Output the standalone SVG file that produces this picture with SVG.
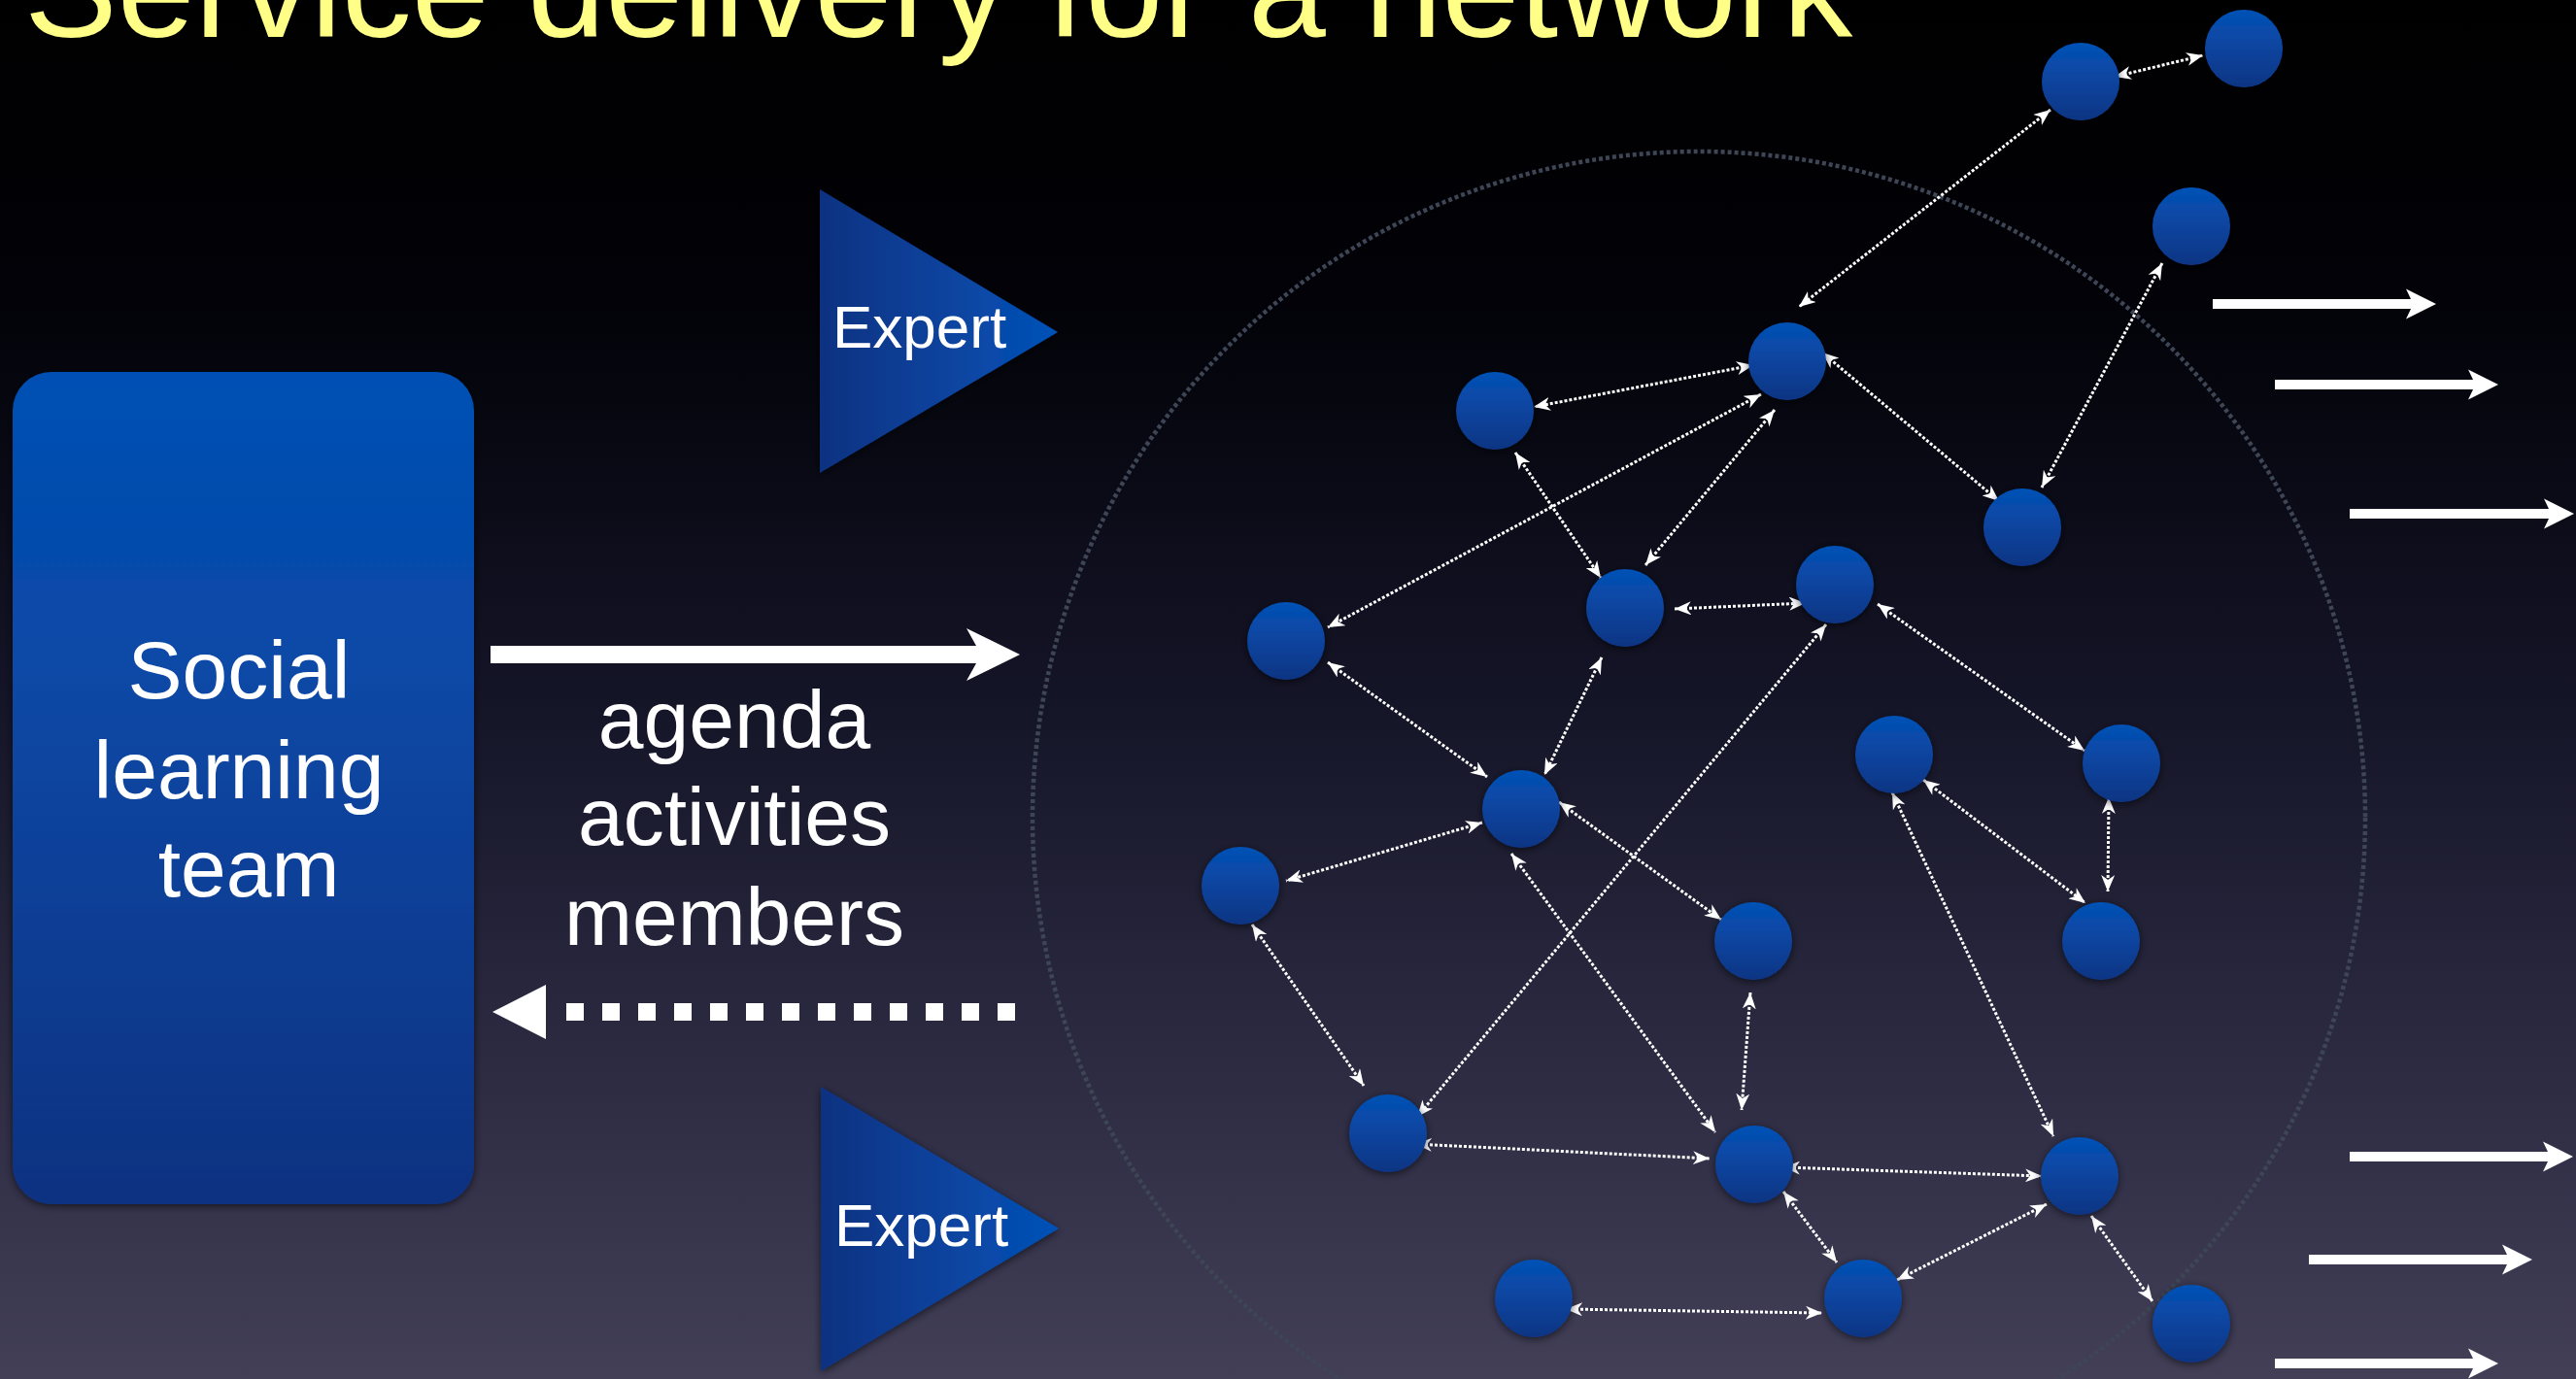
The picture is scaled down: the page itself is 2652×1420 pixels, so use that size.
<svg xmlns="http://www.w3.org/2000/svg" width="2652" height="1420" viewBox="0 0 2652 1420">
<defs>
  <linearGradient id="bg" x1="0" y1="0" x2="0" y2="1">
    <stop offset="0" stop-color="#000000"/>
    <stop offset="0.22" stop-color="#020208"/>
    <stop offset="0.5" stop-color="#141427"/>
    <stop offset="0.75" stop-color="#2a2940"/>
    <stop offset="1" stop-color="#423f57"/>
  </linearGradient>
  <linearGradient id="nodeFill" x1="0" y1="0" x2="0" y2="1">
    <stop offset="0" stop-color="#0052b6"/>
    <stop offset="0.35" stop-color="#0b48a6"/>
    <stop offset="1" stop-color="#0c3583"/>
  </linearGradient>
  <linearGradient id="boxFill" x1="0" y1="0" x2="0" y2="1">
    <stop offset="0" stop-color="#0050b4"/>
    <stop offset="0.4" stop-color="#0b47a4"/>
    <stop offset="1" stop-color="#0c3281"/>
  </linearGradient>
  <linearGradient id="triFill" x1="0" y1="0" x2="1" y2="0">
    <stop offset="0" stop-color="#0c3281"/>
    <stop offset="0.6" stop-color="#0b45a2"/>
    <stop offset="1" stop-color="#0052b8"/>
  </linearGradient>
  <filter id="shadow" x="-20%" y="-20%" width="140%" height="140%">
    <feDropShadow dx="0" dy="2" stdDeviation="4" flood-color="#000000" flood-opacity="0.6"/>
  </filter>
  <marker id="ah" viewBox="0 0 17 14" refX="17" refY="7" markerWidth="17" markerHeight="14" markerUnits="userSpaceOnUse" orient="auto-start-reverse">
    <path d="M17,7 L0,0 L5,7 L0,14 Z" fill="#ffffff"/>
  </marker>
</defs>
<style>
  .node { fill: url(#nodeFill); filter: url(#shadow); }
  .link { stroke: #ffffff; stroke-width: 3; stroke-dasharray: 3 2; fill: none; marker-start: url(#ah); marker-end: url(#ah); }
  .txt { font-family: "Liberation Sans", Arial, sans-serif; fill: #ffffff; }
  .big { font-size: 84px; text-anchor: middle; }
  .exp { font-size: 62px; }
  .warrow { fill: #ffffff; }
</style>

<rect x="0" y="0" width="2652" height="1420" fill="url(#bg)"/>

<text id="title" x="25" y="38" font-family="Liberation Sans, Arial, sans-serif" font-size="143.5" fill="#ffff88">Service delivery for a network</text>

<circle id="network-boundary" cx="1749" cy="842" r="686" fill="none" stroke="#3e4656" stroke-width="4.5" stroke-dasharray="4 3"/>

<g id="social-learning-team">
  <rect x="13" y="383" width="475" height="857" rx="40" ry="40" fill="url(#boxFill)" filter="url(#shadow)"/>
  <text class="txt big" x="246" y="719">Social</text>
  <text class="txt big" x="246" y="822">learning</text>
  <text class="txt big" x="256" y="923">team</text>
</g>

<g id="expert-top">
  <polygon points="844,195 844,487 1089,342" fill="url(#triFill)" filter="url(#shadow)"/>
  <text class="txt exp" x="857" y="358">Expert</text>
</g>
<g id="expert-bottom">
  <polygon points="845,1119 845,1412 1090,1265" fill="url(#triFill)" filter="url(#shadow)"/>
  <text class="txt exp" x="859" y="1283">Expert</text>
</g>

<g id="flow-labels">
  <text class="txt big" x="756" y="770">agenda</text>
  <text class="txt big" x="756" y="870">activities</text>
  <text class="txt big" x="756" y="973">members</text>
</g>

<g id="main-arrows">
  <path class="warrow" d="M505,665 L1005,665 L995,647 L1050,674 L995,701 L1005,683 L505,683 Z"/>
  <path class="warrow" d="M507,1042 L562,1014 L562,1070 Z"/>
  <line x1="583" y1="1042" x2="1050" y2="1042" stroke="#ffffff" stroke-width="18" stroke-dasharray="18 19"/>
</g>

<g id="output-arrows">
  <path class="warrow" d="M2278,308 L2482,308 L2477,297.5 L2508,313 L2477,328.5 L2482,318 L2278,318 Z"/>
  <path class="warrow" d="M2342,391 L2546,391 L2541,380.5 L2572,396 L2541,411.5 L2546,401 L2342,401 Z"/>
  <path class="warrow" d="M2419,524 L2624,524 L2619,513.5 L2650,529 L2619,544.5 L2624,534 L2419,534 Z"/>
  <path class="warrow" d="M2419,1186 L2623,1186 L2618,1175.5 L2649,1191 L2618,1206.5 L2623,1196 L2419,1196 Z"/>
  <path class="warrow" d="M2377,1292 L2581,1292 L2576,1281.5 L2607,1297 L2576,1312.5 L2581,1302 L2377,1302 Z"/>
  <path class="warrow" d="M2342,1399 L2546,1399 L2541,1388.5 L2572,1404 L2541,1419.5 L2546,1409 L2342,1409 Z"/>
</g>

<g id="connectors">
  <line class="link" x1="2177" y1="79" x2="2268" y2="57"/>
  <line class="link" x1="2111" y1="113" x2="1852" y2="316"/>
  <line class="link" x1="2226" y1="271" x2="2102" y2="502"/>
  <line class="link" x1="1805" y1="376" x2="1579" y2="419"/>
  <line class="link" x1="1813" y1="406" x2="1367" y2="646"/>
  <line class="link" x1="1827" y1="422" x2="1694" y2="582"/>
  <line class="link" x1="1876" y1="363" x2="2058" y2="516"/>
  <line class="link" x1="1560" y1="466" x2="1648" y2="595"/>
  <line class="link" x1="1724" y1="627" x2="1859" y2="621"/>
  <line class="link" x1="1933" y1="622" x2="2146" y2="773"/>
  <line class="link" x1="1880" y1="643" x2="1459" y2="1150"/>
  <line class="link" x1="1367" y1="682" x2="1531" y2="800"/>
  <line class="link" x1="1649" y1="677" x2="1590" y2="798"/>
  <line class="link" x1="1526" y1="847" x2="1324" y2="907"/>
  <line class="link" x1="1605" y1="826" x2="1772" y2="947"/>
  <line class="link" x1="1556" y1="879" x2="1766" y2="1166"/>
  <line class="link" x1="1289" y1="952" x2="1404" y2="1118"/>
  <line class="link" x1="1948" y1="816" x2="2114" y2="1170"/>
  <line class="link" x1="1980" y1="803" x2="2147" y2="930"/>
  <line class="link" x1="2171" y1="821" x2="2170" y2="918"/>
  <line class="link" x1="1802" y1="1022" x2="1793" y2="1143"/>
  <line class="link" x1="1457" y1="1178" x2="1760" y2="1193"/>
  <line class="link" x1="1836" y1="1202" x2="2102" y2="1211"/>
  <line class="link" x1="1836" y1="1227" x2="1891" y2="1300"/>
  <line class="link" x1="1953" y1="1318" x2="2107" y2="1240"/>
  <line class="link" x1="1612" y1="1348" x2="1876" y2="1352"/>
  <line class="link" x1="2153" y1="1252" x2="2216" y2="1340"/>
</g>

<g id="n1"><circle class="node" cx="2142" cy="84" r="40"/></g>
<g id="n2"><circle class="node" cx="2310" cy="50" r="40"/></g>
<g id="n3"><circle class="node" cx="2256" cy="233" r="40"/></g>
<g id="n4"><circle class="node" cx="1840" cy="372" r="40"/></g>
<g id="n5"><circle class="node" cx="1539" cy="423" r="40"/></g>
<g id="n6"><circle class="node" cx="2082" cy="543" r="40"/></g>
<g id="n7"><circle class="node" cx="1673" cy="626" r="40"/></g>
<g id="n8"><circle class="node" cx="1889" cy="602" r="40"/></g>
<g id="n9"><circle class="node" cx="1324" cy="660" r="40"/></g>
<g id="n10"><circle class="node" cx="1950" cy="777" r="40"/></g>
<g id="n11"><circle class="node" cx="2184" cy="786" r="40"/></g>
<g id="n12"><circle class="node" cx="1566" cy="833" r="40"/></g>
<g id="n13"><circle class="node" cx="1277" cy="912" r="40"/></g>
<g id="n14"><circle class="node" cx="1805" cy="969" r="40"/></g>
<g id="n15"><circle class="node" cx="2163" cy="969" r="40"/></g>
<g id="n16"><circle class="node" cx="1429" cy="1167" r="40"/></g>
<g id="n17"><circle class="node" cx="1806" cy="1199" r="40"/></g>
<g id="n18"><circle class="node" cx="2141" cy="1211" r="40"/></g>
<g id="n19"><circle class="node" cx="1579" cy="1337" r="40"/></g>
<g id="n20"><circle class="node" cx="1918" cy="1337" r="40"/></g>
<g id="n21"><circle class="node" cx="2256" cy="1363" r="40"/></g>
</svg>
